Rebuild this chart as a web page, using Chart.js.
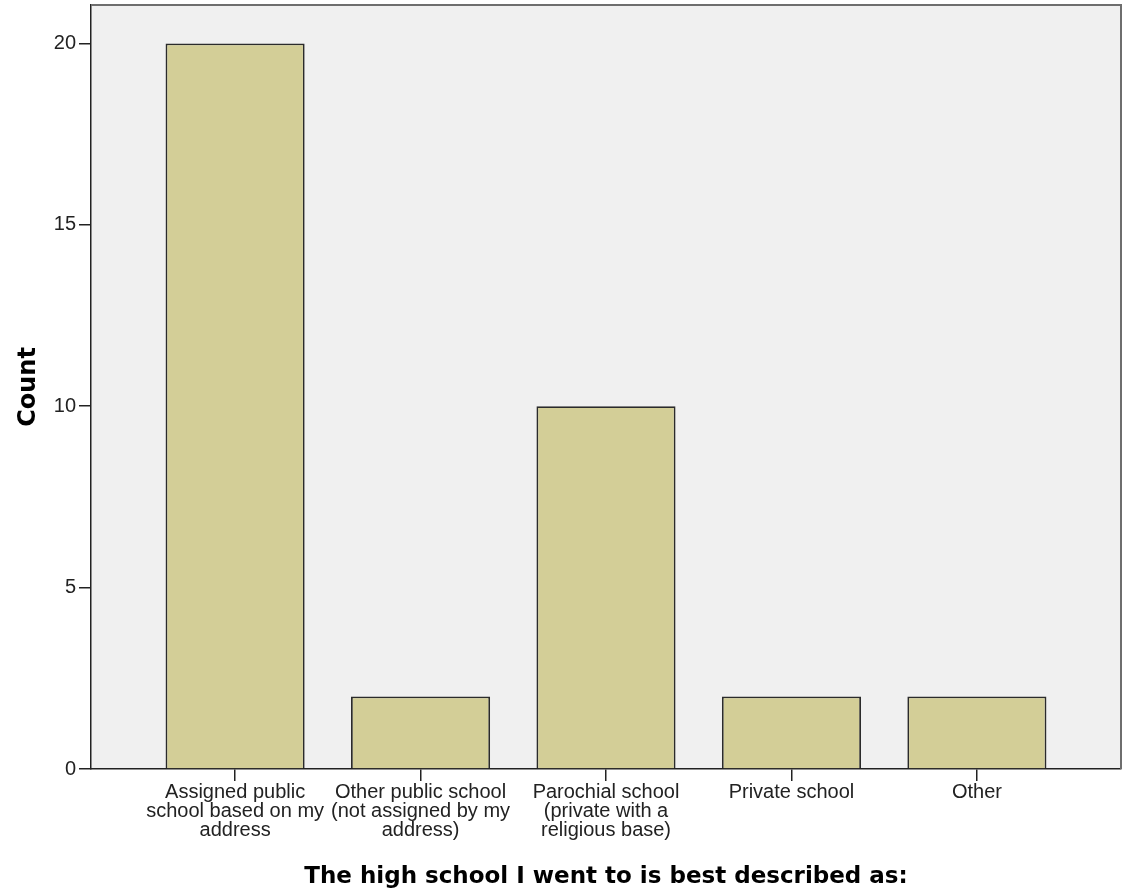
<!DOCTYPE html>
<html>
<head>
<meta charset="utf-8">
<script src="https://cdn.jsdelivr.net/npm/chart.js@4"></script>
<style>
  body { margin: 0; background: #fff; }
  canvas { display: block; }
</style>
</head>
<body>
<canvas id="chart" width="1125" height="892"></canvas>
<script>
// data
const categories = [
    ["Assigned public", "school based on my", "address"],
    ["Other public school", "(not assigned by my", "address)"],
    ["Parochial school", "(private with a", "religious base)"],
    ["Private school"],
    ["Other"]
];
const counts = [20, 2, 10, 2, 2];
const yTicks = [0, 5, 10, 15, 20];
const yMax = 21.06;
const xTitle = "The high school I went to is best described as:";
const yTitle = "Count";

const tickFont = { family: '"Liberation Sans", Arial, sans-serif', size: 20, lineHeight: 0.95 };
const titleFont = { family: '"DejaVu Sans", Verdana, sans-serif', weight: 'bold' };

// grey plot background + grey frame on top and right
const plotFrame = {
    id: 'plotFrame',
    beforeDraw(chart) {
        const { ctx, chartArea: a } = chart;
        ctx.save();
        ctx.fillStyle = '#f0f0f0';
        ctx.fillRect(a.left, a.top, a.right - a.left, a.bottom - a.top);
        ctx.restore();
    },
    afterDraw(chart) {
        const { ctx, chartArea: a } = chart;
        ctx.save();
        ctx.strokeStyle = '#6e6e6e';
        ctx.lineWidth = 2;
        ctx.beginPath();
        ctx.moveTo(a.left, a.top);
        ctx.lineTo(a.right, a.top);
        ctx.lineTo(a.right, a.bottom);
        ctx.stroke();
        ctx.restore();
    }
};

const data = {
    datasets: [{
        data: counts.map((c, i) => ({ x: i, y: c })),
        backgroundColor: '#d3ce97',
        borderColor: '#2b2b2b',
        borderWidth: 1.8,
        categoryPercentage: 1,
        barPercentage: 0.75
    }]
};

const config = {
    type: 'bar',
    data: data,
    options: {
        responsive: false,
        animation: false,
        layout: { padding: { top: 5, right: 4, left: 0, bottom: 0 } },
        plugins: {
            legend: { display: false },
            tooltip: { enabled: false }
        },
        scales: {
            x: {
                type: 'linear',
                min: -0.777,
                max: 4.777,
                offset: false,
                afterBuildTicks: (s) => { s.ticks = categories.map((c, i) => ({ value: i })); },
                afterFit: (s) => { s.height = 123; s.paddingLeft = 0; s.paddingRight = 0; },
                ticks: {
                    autoSkip: false,
                    maxRotation: 0,
                    callback: (v) => categories[v],
                    font: tickFont,
                    color: '#222',
                    padding: 2
                },
                grid: { offset: false, drawOnChartArea: false, drawTicks: true, tickLength: 12, color: '#222', lineWidth: 1.5 },
                border: { color: '#222', width: 1.5 },
                title: {
                    display: true,
                    text: xTitle,
                    font: { ...titleFont, size: 23 },
                    color: '#000',
                    padding: { top: 0, bottom: 1 }
                }
            },
            y: {
                min: 0,
                max: yMax,
                afterBuildTicks: (s) => { s.ticks = yTicks.map(v => ({ value: v })); },
                afterFit: (s) => { s.width = 91; s.paddingTop = 0; s.paddingBottom = 0; },
                ticks: { font: tickFont, color: '#222', padding: 3 },
                grid: { drawOnChartArea: false, drawTicks: true, tickLength: 12, color: '#222', lineWidth: 1.5 },
                border: { color: '#222', width: 1.5 },
                title: {
                    display: true,
                    text: yTitle,
                    font: { ...titleFont, size: 24 },
                    color: '#000',
                    padding: { top: 14, bottom: 0 }
                }
            }
        }
    },
    plugins: [plotFrame]
};

const myChart = new Chart(document.getElementById('chart'), config);
</script>
</body>
</html>
